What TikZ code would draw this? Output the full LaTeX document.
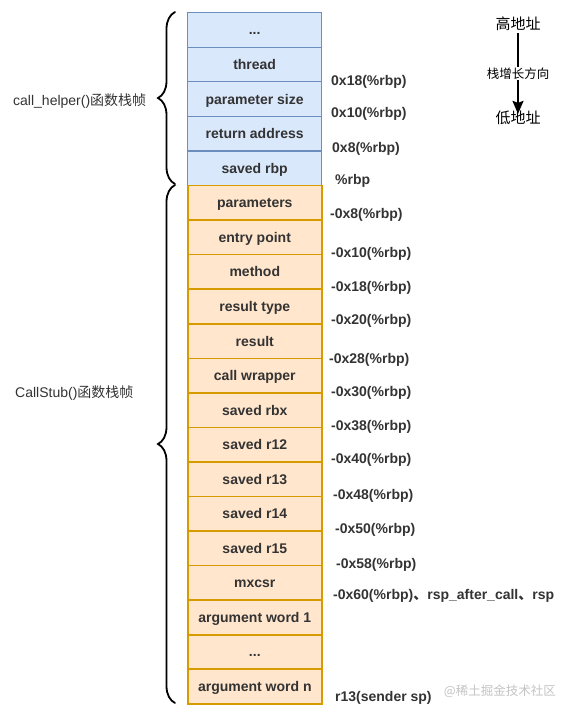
\documentclass[tikz,border=0pt]{standalone}
\usepackage{fontspec}
\setmainfont{Liberation Sans}
\newfontfamily\cjk{Noto Sans CJK SC}
\usetikzlibrary{arrows.meta,decorations.pathreplacing}
\definecolor{bfill}{HTML}{DAE8FC}
\definecolor{bline}{HTML}{6C8EBF}
\definecolor{ofill}{HTML}{FFE6CC}
\definecolor{oline}{HTML}{D79B00}
\definecolor{txt}{HTML}{333333}
\definecolor{wm}{HTML}{C4C4C4}
\newcommand\mydots{...}
\begin{document}
\begin{tikzpicture}[x=1pt,y=-1pt,
  cell/.style={draw, minimum width=134pt, minimum height=34.55pt, inner sep=0pt,
    text height=10pt, text depth=0pt,
    anchor=north west, text=txt, font=\bfseries\fontsize{14}{16}\selectfont},
  bcell/.style={cell, fill=bfill, draw=bline, line width=1.3pt},
  ocell/.style={cell, fill=ofill, draw=oline, line width=1.6pt},
  off/.style={anchor=west, inner sep=0pt, text=txt, font=\bfseries\fontsize{14}{16}\selectfont},
  side/.style={anchor=west, inner sep=0pt, text=txt, font=\fontsize{14}{16}\selectfont},
  bracestyle/.style={decorate, decoration={brace, amplitude=17pt}, line width=1.8pt, line cap=round},
  cjklabel/.style={inner sep=0pt, text=black, font=\cjk\fontsize{15}{17}\selectfont}
]
\useasboundingbox (0,0) rectangle (574,716);
\fill[white] (0,0) rectangle (574,716);

% blue cells
\foreach \t [count=\i] in {\mydots,thread,parameter size,return address,saved rbp}
  \node[bcell] (b\i) at (187,{12+(\i-1)*34.55}) {\t};
% orange cells
\foreach \t [count=\i] in {parameters,entry point,method,result type,result,call wrapper,saved rbx,saved r12,saved r13,saved r14,saved r15,mxcsr,argument word 1,\mydots,argument word n}
  \node[ocell] (o\i) at (187,{184.75+(\i-1)*34.55}) {\t};

% offset labels
\node[off] (l1) at (331,82) {0x18(\%rbp)};
\node[off] (l2) at (331,114) {0x10(\%rbp)};
\node[off] (l3) at (332,149) {0x8(\%rbp)};
\node[off] (l4) at (335,181) {\%rbp};
\node[off] (l5) at (330,215) {-0x8(\%rbp)};
\node[off] (l6) at (331,254) {-0x10(\%rbp)};
\node[off] (l7) at (331,288) {-0x18(\%rbp)};
\node[off] (l8) at (331,321) {-0x20(\%rbp)};
\node[off] (l9) at (329,360) {-0x28(\%rbp)};
\node[off] (l10) at (331,393) {-0x30(\%rbp)};
\node[off] (l11) at (331,427) {-0x38(\%rbp)};
\node[off] (l12) at (331,460) {-0x40(\%rbp)};
\node[off] (l13) at (333,496) {-0x48(\%rbp)};
\node[off] (l14) at (335,530) {-0x50(\%rbp)};
\node[off] (l15) at (336,565) {-0x58(\%rbp)};
\node[off] (l16) at (333,596) {-0x60(\%rbp){\cjk 、}rsp\_after\_call{\cjk 、}rsp};
\node[off] (l17) at (335,698) {r13(sender sp)};

% side labels
\node[side] (s1) at (13,101) {call\_helper(){\cjk 函数栈帧}};
\node[side] (s2) at (15,393) {CallStub(){\cjk 函数栈帧}};

% braces
\coordinate (t1) at (175,12);
\coordinate (t2) at (175,184);
\coordinate (u1) at (175,185);
\coordinate (u2) at (175,703);
\draw[bracestyle] (t2) -- (t1);
\draw[bracestyle] (u2) -- (u1);

% growth direction
\node[cjklabel] (hi) at (518,24) {高地址};
\node[cjklabel] (lo) at (518,118) {低地址};
\draw[line width=1.8pt, -{Stealth[length=13pt,width=11pt,inset=2pt]}] ([yshift=-2pt]hi.south) -- ([yshift=-3pt]lo.north)
  node[midway, fill=white, inner sep=1pt, text=black, font=\cjk\fontsize{12.5}{14}\selectfont] (dir) {栈增长方向};

% watermark
\node[inner sep=0pt, text=wm, font=\cjk\fontsize{12.5}{14}\selectfont, anchor=east] (wmk) at (556,691) {@稀土掘金技术社区};
\end{tikzpicture}
\end{document}
